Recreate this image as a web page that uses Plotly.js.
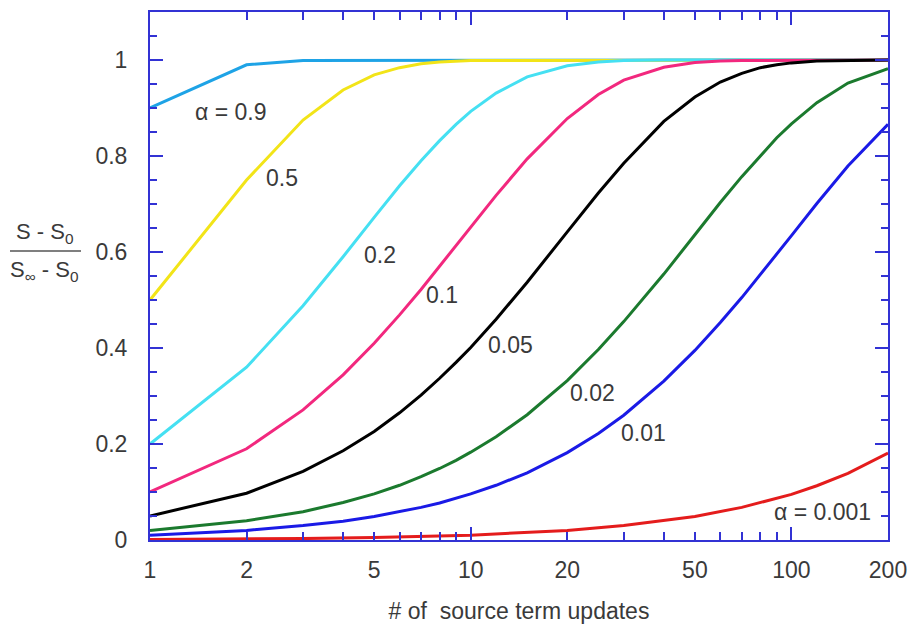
<!DOCTYPE html>
<html>
<head>
<meta charset="utf-8">
<script src="https://cdn.plot.ly/plotly-3.0.1.min.js"></script>
<style>html,body{margin:0;padding:0;background:#fff;}#chart{width:913px;height:628px;}</style>
</head>
<body>
<div id="chart"></div>
<script>
// Values (fraction reached after n source term updates)
const n_a09 = [1, 2, 3, 200];
const v_a09 = [0.9, 0.99, 0.999, 1.0];

const n_a05 = [1, 2, 3, 4, 5, 6, 7, 8, 10, 200];
const v_a05 = [0.5, 0.75, 0.875, 0.9375, 0.969, 0.984, 0.992, 0.996, 0.999, 1.0];

const n_a02 = [1, 2, 3, 4, 5, 6, 7, 8, 9, 10, 12, 15, 20, 25, 30, 40, 200];
const v_a02 = [0.2, 0.36, 0.488, 0.59, 0.672, 0.738, 0.79, 0.832, 0.866, 0.893, 0.931, 0.965, 0.988, 0.996, 0.999, 1.0, 1.0];

const n_a01 = [1, 2, 3, 4, 5, 6, 7, 8, 9, 10, 12, 15, 20, 25, 30, 40, 50, 60, 70, 200];
const v_a01 = [0.1, 0.19, 0.271, 0.344, 0.41, 0.469, 0.522, 0.57, 0.613, 0.651, 0.718, 0.794, 0.878, 0.928, 0.958, 0.985, 0.995, 0.998, 0.999, 1.0];

const n_a005 = [1, 2, 3, 4, 5, 6, 7, 8, 9, 10, 12, 15, 20, 25, 30, 40, 50, 60, 70, 80, 90, 100, 120, 150, 200];
const v_a005 = [0.05, 0.0975, 0.143, 0.186, 0.226, 0.265, 0.302, 0.337, 0.37, 0.401, 0.46, 0.537, 0.642, 0.723, 0.785, 0.872, 0.923, 0.954, 0.972, 0.984, 0.99, 0.994, 0.998, 0.9995, 1.0];

const n_a002 = [1, 2, 3, 4, 5, 6, 7, 8, 9, 10, 12, 15, 20, 25, 30, 40, 50, 60, 70, 80, 90, 100, 120, 150, 200];
const v_a002 = [0.02, 0.04, 0.059, 0.078, 0.096, 0.114, 0.132, 0.149, 0.166, 0.183, 0.215, 0.261, 0.332, 0.397, 0.455, 0.554, 0.636, 0.703, 0.757, 0.801, 0.838, 0.867, 0.911, 0.952, 0.982];

const n_a001 = [1, 2, 3, 4, 5, 6, 7, 8, 9, 10, 12, 15, 20, 25, 30, 40, 50, 60, 70, 80, 90, 100, 120, 150, 200];
const v_a001 = [0.01, 0.02, 0.03, 0.039, 0.049, 0.059, 0.068, 0.077, 0.087, 0.096, 0.114, 0.14, 0.182, 0.222, 0.26, 0.331, 0.395, 0.453, 0.505, 0.553, 0.595, 0.634, 0.701, 0.779, 0.866];

const n_a0001 = [1, 2, 3, 5, 10, 20, 30, 50, 70, 100, 120, 150, 200];
const v_a0001 = [0.001, 0.002, 0.003, 0.005, 0.01, 0.02, 0.03, 0.049, 0.068, 0.095, 0.113, 0.139, 0.181];

const xTickVals = [1, 2, 5, 10, 20, 50, 100, 200];
const xTickText = ['1', '2', '5', '10', '20', '50', '100', '200'];
const xMinorVals = [3, 4, 6, 7, 8, 9, 30, 40, 60, 70, 80, 90];
const xDecadeVals = [1, 10, 100];
const yTickVals = [0, 0.2, 0.4, 0.6, 0.8, 1];
const yTickText = ['0', '0.2', '0.4', '0.6', '0.8', '1'];

const labels = ['α = 0.9', '0.5', '0.2', '0.1', '0.05', '0.02', '0.01', 'α = 0.001'];

const series = [
  [n_a09, v_a09, '#1ea3e6'],
  [n_a05, v_a05, '#f2e418'],
  [n_a02, v_a02, '#45e0f2'],
  [n_a01, v_a01, '#f2287e'],
  [n_a005, v_a005, '#000000'],
  [n_a002, v_a002, '#1b7a2e'],
  [n_a001, v_a001, '#1a1ae6'],
  [n_a0001, v_a0001, '#e41c1c']
];

const traces = series.map((s, i) => ({
  x: s[0], y: s[1], type: 'scatter', mode: 'lines',
  line: {color: s[2], width: 3}, name: labels[i], hoverinfo: 'skip', showlegend: false
}));
// invisible helper trace to bring up the overlay axis carrying the long decade ticks
traces.push({x: [1], y: [0], xaxis: 'x2', yaxis: 'y', mode: 'markers', marker: {opacity: 0}, hoverinfo: 'skip', showlegend: false});

const axisBlue = '#3232d4';
const txt = '#3a3a3a';
const fnt = 'Arial, "Liberation Sans", sans-serif';
const L = 150, R = 888, T = 12, B = 540;
const px = v => (v - L) / (R - L);
const py = v => (B - v) / (B - T);

const labelPos = [[230, 112], [282, 178], [380, 255], [442, 295], [510, 345], [592, 393], [643, 433], [822, 512]];
const annotations = labels.map((t, i) => ({
  text: t, xref: 'paper', yref: 'paper', x: px(labelPos[i][0]), y: py(labelPos[i][1]),
  xanchor: 'center', yanchor: 'middle', showarrow: false,
  font: {family: fnt, size: 23, color: txt}
}));
// y-axis title drawn as a fraction
annotations.push({text: 'S - S<sub>0</sub>', xref: 'paper', yref: 'paper', x: px(44), y: py(233), xanchor: 'center', yanchor: 'middle', showarrow: false, font: {family: fnt, size: 22, color: txt}});
annotations.push({text: 'S<sub>∞</sub> - S<sub>0</sub>', xref: 'paper', yref: 'paper', x: px(44), y: py(271), xanchor: 'center', yanchor: 'middle', showarrow: false, font: {family: fnt, size: 22, color: txt}});

const layout = {
  width: 913, height: 628,
  margin: {l: L, r: 913 - R, t: T, b: 628 - B},
  paper_bgcolor: '#ffffff', plot_bgcolor: '#ffffff',
  showlegend: false,
  xaxis: {
    type: 'log', range: [0, Math.log10(200)],
    tickmode: 'array', tickvals: xTickVals, ticktext: xTickText,
    ticks: 'inside', ticklen: 8, tickwidth: 2, tickcolor: axisBlue,
    minor: {tickmode: 'array', tickvals: xMinorVals, ticks: 'inside', ticklen: 8, tickwidth: 2, tickcolor: axisBlue, showgrid: false},
    showline: true, linecolor: axisBlue, linewidth: 2, mirror: 'ticks',
    showgrid: false, zeroline: false,
    tickfont: {family: fnt, size: 23, color: txt},
    ticklabelstandoff: 8,
    title: {text: '# of  source term updates', font: {family: fnt, size: 23, color: txt}, standoff: 21}
  },
  xaxis2: {
    type: 'log', range: [0, Math.log10(200)], overlaying: 'x', anchor: 'y', side: 'bottom',
    tickmode: 'array', tickvals: xDecadeVals, showticklabels: false,
    ticks: 'inside', ticklen: 13, tickwidth: 2, tickcolor: axisBlue,
    showline: false, mirror: 'ticks', showgrid: false, zeroline: false
  },
  yaxis: {
    range: [0, 1.1],
    tickmode: 'array', tickvals: yTickVals, ticktext: yTickText,
    ticks: 'inside', ticklen: 13, tickwidth: 2, tickcolor: axisBlue,
    minor: {dtick: 0.05, tick0: 0, ticks: 'inside', ticklen: 7, tickwidth: 2, tickcolor: axisBlue, showgrid: false},
    showline: true, linecolor: axisBlue, linewidth: 2, mirror: 'ticks',
    showgrid: false, zeroline: false,
    tickfont: {family: fnt, size: 23, color: txt},
    ticklabelstandoff: 16
  },
  shapes: [{type: 'line', xref: 'paper', yref: 'paper', x0: px(10), x1: px(81), y0: py(251), y1: py(251), line: {color: '#555555', width: 1.5}}],
  annotations: annotations
};

Plotly.newPlot('chart', traces, layout, {displayModeBar: false, staticPlot: true});
</script>
</body>
</html>
